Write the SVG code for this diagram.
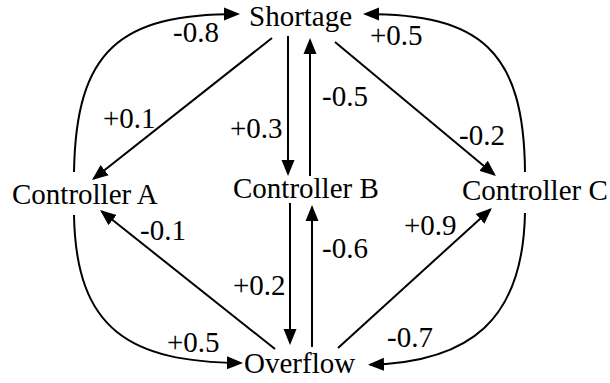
<svg xmlns="http://www.w3.org/2000/svg" width="610" height="383" viewBox="0 0 610 383">
<defs>
<marker id="ah" markerUnits="userSpaceOnUse" markerWidth="18" markerHeight="14" refX="14" refY="7" orient="auto" viewBox="0 0 18 14">
<path d="M0,0.5 L16,7 L0,13.5 Z" fill="#000"/>
</marker>
</defs>
<rect width="610" height="383" fill="#fff"/>
<g id="connectors" fill="none" stroke="#000" stroke-width="2" marker-end="url(#ah)">
<path d="M74,172 C76,50 120,14 238,14" marker-end="url(#ah)"/>
<path d="M272,38 L93.6,178.8" marker-end="url(#ah)"/>
<path d="M288,36 L288,174" marker-end="url(#ah)"/>
<path d="M310,176 L310,40" marker-end="url(#ah)"/>
<path d="M335,42 L494.4,174.7" marker-end="url(#ah)"/>
<path d="M525,172 C524,50 480,14 365,14" marker-end="url(#ah)"/>
<path d="M275,349 L101.6,211.3" marker-end="url(#ah)"/>
<path d="M74,215 C76,330 130,362 241,363" marker-end="url(#ah)"/>
<path d="M290,203 L290,343" marker-end="url(#ah)"/>
<path d="M312,347 L312,207" marker-end="url(#ah)"/>
<path d="M338,348 L490.4,209.4" marker-end="url(#ah)"/>
<path d="M525,213 C523,320 470,362 370,364.7" marker-end="url(#ah)"/>
</g>
<g id="labels">
<text x="173" y="42" font-family="Liberation Serif" font-size="29">-0.8</text>
<text x="103" y="128" font-family="Liberation Serif" font-size="29">+0.1</text>
<text x="230" y="138" font-family="Liberation Serif" font-size="29">+0.3</text>
<text x="322" y="106" font-family="Liberation Serif" font-size="29">-0.5</text>
<text x="370" y="45" font-family="Liberation Serif" font-size="29">+0.5</text>
<text x="459" y="145" font-family="Liberation Serif" font-size="29">-0.2</text>
<text x="140" y="240" font-family="Liberation Serif" font-size="29">-0.1</text>
<text x="233" y="295" font-family="Liberation Serif" font-size="29">+0.2</text>
<text x="322" y="258" font-family="Liberation Serif" font-size="29">-0.6</text>
<text x="404" y="235" font-family="Liberation Serif" font-size="29">+0.9</text>
<text x="167" y="352" font-family="Liberation Serif" font-size="29">+0.5</text>
<text x="387" y="347" font-family="Liberation Serif" font-size="29">-0.7</text>
</g>
<g id="shortage"><text x="249" y="26" font-family="Liberation Serif" font-size="29">Shortage</text></g>
<g id="controller-a"><text x="12" y="204" font-family="Liberation Serif" font-size="29">Controller A</text></g>
<g id="controller-b"><text x="233" y="198" font-family="Liberation Serif" font-size="29">Controller B</text></g>
<g id="controller-c"><text x="462" y="200" font-family="Liberation Serif" font-size="29">Controller C</text></g>
<g id="overflow"><text x="244" y="373" font-family="Liberation Serif" font-size="29">Overflow</text></g>
</svg>
